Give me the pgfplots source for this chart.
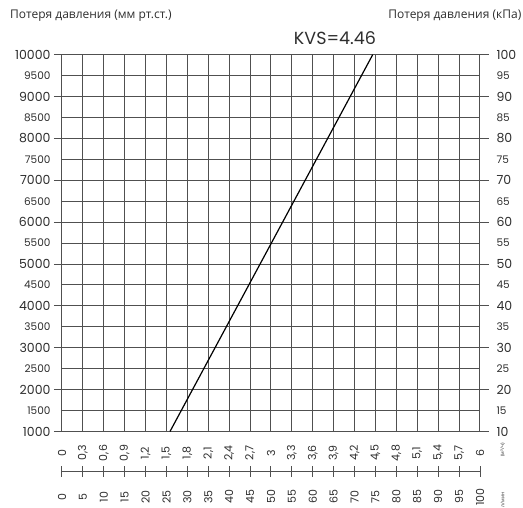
\documentclass[border=0pt]{standalone}
\usepackage{pgfplots}
\pgfplotsset{compat=1.18}
\usepackage{fontspec}
\setmainfont{Poppins}
\newfontfamily\ru{Open Sans}
\definecolor{gridc}{HTML}{505050}
\definecolor{txt}{HTML}{2E2E2E}
\newcommand{\bigf}{\fontsize{12.5}{13}\selectfont}
\newcommand{\smallf}{\fontsize{10.5}{11}\selectfont}
\newcommand{\botf}{\fontsize{11}{11}\selectfont}

\begin{document}
\begin{tikzpicture}[x=1pt,y=1pt]
\useasboundingbox (-62pt,-76.5pt) rectangle (461pt,431.5pt);
\pgfplotsset{
  common/.style={
    scale only axis, width=418pt, height=376.8pt,
    at={(0pt,0pt)}, anchor=south west,
    scaled ticks=false,
    /pgf/number format/assume math mode=true,
    /pgf/number format/use comma,
    /pgf/number format/1000 sep={},
    tick label style={text=txt},
    axis line style={gridc, line width=1pt},
    tick style={gridc, line width=1pt},
    tick align=outside,
  },
}
% main axis: mm Hg vs m3/h
\begin{axis}[common,
  xmin=0, xmax=6, ymin=1000, ymax=10000,
  xtick={0,0.3,0.6,0.9,1.2,1.5,1.8,2.1,2.4,2.7,3,3.3,3.6,3.9,4.2,4.5,4.8,5.1,5.4,5.7,6},
  x tick style={draw=none},
  xticklabel style={yshift=-13.5pt, rotate=90, anchor=center, font=\botf},
  ytick={1000,2000,...,10000},
  ytick pos=left,
  major tick length=8pt,
  yticklabel style={font=\bigf},
  extra y ticks={1500,2500,3500,4500,5500,6500,7500,8500,9500},
  extra y tick style={grid=major, tick style={draw=none}, yticklabel style={font=\smallf}},
  grid=major,
  major grid style={gridc, line width=1pt},
]
\addplot[black, line width=1.2pt] coordinates {(1.55,1000) (4.46,10000)};
\end{axis}
% right axis: kPa
\begin{axis}[common,
  xmin=0, xmax=6, ymin=10, ymax=100,
  axis line style={draw=none},
  xtick=\empty,
  ytick pos=right,
  ytick={10,20,...,100},
  major tick length=9pt,
  yticklabel style={font=\bigf, xshift=4pt},
  extra y ticks={15,25,35,45,55,65,75,85,95},
  extra y tick style={tick style={draw=none}, yticklabel style={font=\smallf}},
]
\end{axis}
% second x axis: l/min
\begin{axis}[
  scale only axis, width=418pt, height=10pt,
  at={(0pt,-40.2pt)}, anchor=south west,
  xmin=0, xmax=100, ymin=0, ymax=1,
  hide y axis,
  axis x line*=bottom,
  x axis line style={-, gridc, line width=1pt},
  tick style={gridc, line width=1pt},
  /pgf/number format/assume math mode=true,
  xtick={0,5,...,100},
  tick align=center, major tick length=10.6pt,
  xticklabel style={text=txt, yshift=-20pt, rotate=90, anchor=center, font=\botf},
]
\end{axis}
\node[rotate=90, text=txt, font=\ru\fontsize{5}{5}\selectfont] at (440.7pt,-18.5pt) {(м³/ч)};
\node[rotate=90, text=txt, font=\ru\fontsize{5}{5}\selectfont] at (440.7pt,-68.5pt) {л/мин};
\node[anchor=west, text=txt, font=\ru\fontsize{12}{12}\selectfont, inner sep=0] at (-52pt,416pt) {Потеря давления (мм рт.ст.)};
\node[anchor=east, text=txt, font=\ru\fontsize{12}{12}\selectfont, inner sep=0] at (459.5pt,416pt) {Потеря давления (кПа)};
\node[text=txt, font=\fontsize{17.5}{17.5}\selectfont, inner sep=0] at (273pt,393pt) {KVS=4.46};
\end{tikzpicture}
\end{document}
